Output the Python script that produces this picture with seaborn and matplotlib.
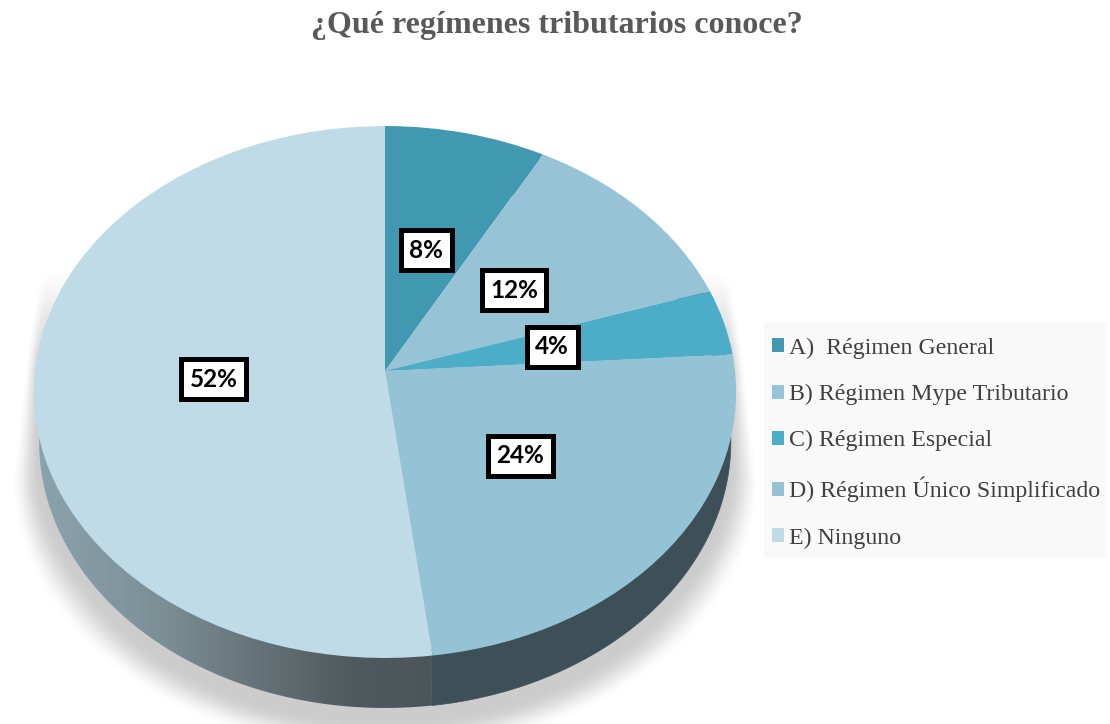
import numpy as np
import matplotlib
matplotlib.use("Agg")
import matplotlib.pyplot as plt
from matplotlib.transforms import Transform
from matplotlib.patches import Polygon, Rectangle
from matplotlib.colors import LinearSegmentedColormap
import seaborn as sns

title = "¿Qué regímenes tributarios conoce?"
categories = ["A)  Régimen General", "B) Régimen Mype Tributario", "C) Régimen Especial",
              "D) Régimen Único Simplificado", "E) Ninguno"]
values = [8, 12, 4, 24, 52]
colors = ["#4199b1", "#96c3d6", "#4cadc9", "#95c3d6", "#bedbe7"]

W, H = 1110, 724
CX, CY, RX, RY, K = 385.0, 371.0, 350.0, 264.3, 0.079
DEPTH, WALL_SCALE = 50.0, 0.985

sns.set_theme(style="white")
fig = plt.figure(figsize=(W / 100, H / 100), dpi=100, facecolor="white")
ax = fig.add_axes([0, 0, 1, 1])


def project(x, y, depth=0.0, scale=1.0):
    w = 1 + K * y
    return CX + RX * scale * x / w, CY + depth - RY * y / w


class Persp(Transform):
    input_dims = output_dims = 2

    def transform_non_affine(self, v):
        v = np.asarray(v, dtype=float)
        px, py = project(v[:, 0], v[:, 1])
        return np.column_stack([px, py])


persp = Persp() + ax.transData

wedges, _, autotexts = ax.pie(
    values, colors=sns.color_palette(colors), startangle=90, counterclock=False,
    autopct=lambda p: f"{p:.0f}%", pctdistance=0.49, radius=1.0,
    wedgeprops=dict(linewidth=0, zorder=5),
)
ax.set_aspect("auto")
ax.set_xlim(0, W)
ax.set_ylim(H, 0)
ax.set_axis_off()

for w in wedges:
    w.set_transform(persp)
for t in autotexts:
    t.set_transform(persp)
    t.set(family="Lato", fontweight="bold", fontsize=17.5, color="black", zorder=8,
          ha="center", va="center", clip_on=False)
    t.set_bbox(dict(boxstyle="square,pad=0.35", fc="white", ec="black", lw=3.6))

# soft drop shadow
yy, xx = np.mgrid[0:H, 0:W] + 0.5
sy = 480.0
half = 375 - (sy - np.minimum(yy, sy)) * 0.13
d_low = np.sqrt(((xx - CX) / 375.0) ** 2 + ((yy - sy) / 275.0) ** 2)
d_up = np.abs(xx - CX) / half
d = np.where(yy >= sy, d_low, d_up)
fade = np.interp(yy, [350, 600], [0.04, 0.12])
a = np.clip((1 - d) / fade, 0, 1)
a = a * a * (3 - 2 * a)
a *= np.clip((yy - 270) / 100, 0, 1)
rgba = np.zeros((H, W, 4))
rgba[..., 3] = 0.2 * a
ax.imshow(rgba, extent=(0, W, H, 0), aspect="auto", zorder=1, interpolation="bilinear")

# side wall of every slice, from the same angles as the pie
edges = np.cumsum([0] + values) / sum(values) * 2 * np.pi
for i in range(len(values)):
    t = np.linspace(edges[i], edges[i + 1], 200)
    ux, uy = project(0.98 * np.sin(t), 0.98 * np.cos(t))
    lx, ly = project(np.sin(t), np.cos(t), DEPTH, WALL_SCALE)
    pts = np.column_stack([np.r_[ux, lx[::-1]], np.r_[uy, ly[::-1]]])
    rgb = np.array(matplotlib.colors.to_rgb(colors[i])) * 0.41
    if i < len(values) - 1:
        ax.add_patch(Polygon(pts, closed=True, fc=rgb, ec=rgb, lw=0.5, zorder=2))
    else:
        clip = Polygon(pts, closed=True, fc="none", ec="none", zorder=2)
        ax.add_patch(clip)
        cmap = LinearSegmentedColormap.from_list(
            "wall", [(0.0, "#8ba3ae"), (0.3, "#7c9096"), (0.55, "#677479"),
                     (0.8, "#50595d"), (1.0, "#4c5559")])
        im = ax.imshow(np.linspace(0, 1, 256).reshape(1, -1), cmap=cmap, aspect="auto",
                       extent=(pts[:, 0].min(), pts[:, 0].max(), H, 0), zorder=2)
        im.set_clip_path(clip)
ax.set_xlim(0, W)
ax.set_ylim(H, 0)

# legend
ax.add_patch(Rectangle((764, 322), 342, 236, fc="#f9f9f9", ec="none", zorder=6))
leg = ax.legend(wedges, categories, loc="upper left", bbox_to_anchor=(772, 337.5),
                bbox_transform=ax.transData, frameon=False, borderpad=0, borderaxespad=0,
                prop=dict(family="Liberation Serif", size=17.2), labelcolor="#404040",
                handlelength=0.52, handleheight=0.52, handletextpad=0.18, labelspacing=1.055)
leg.set_zorder(7)

ax.set_title(title, family="Liberation Serif", fontweight="bold", fontsize=23, color="#595959",
             x=557 / W, y=1 - 26 / H, va="center", ha="center", pad=0)

fig.savefig("out.png", dpi=100, facecolor="white")
